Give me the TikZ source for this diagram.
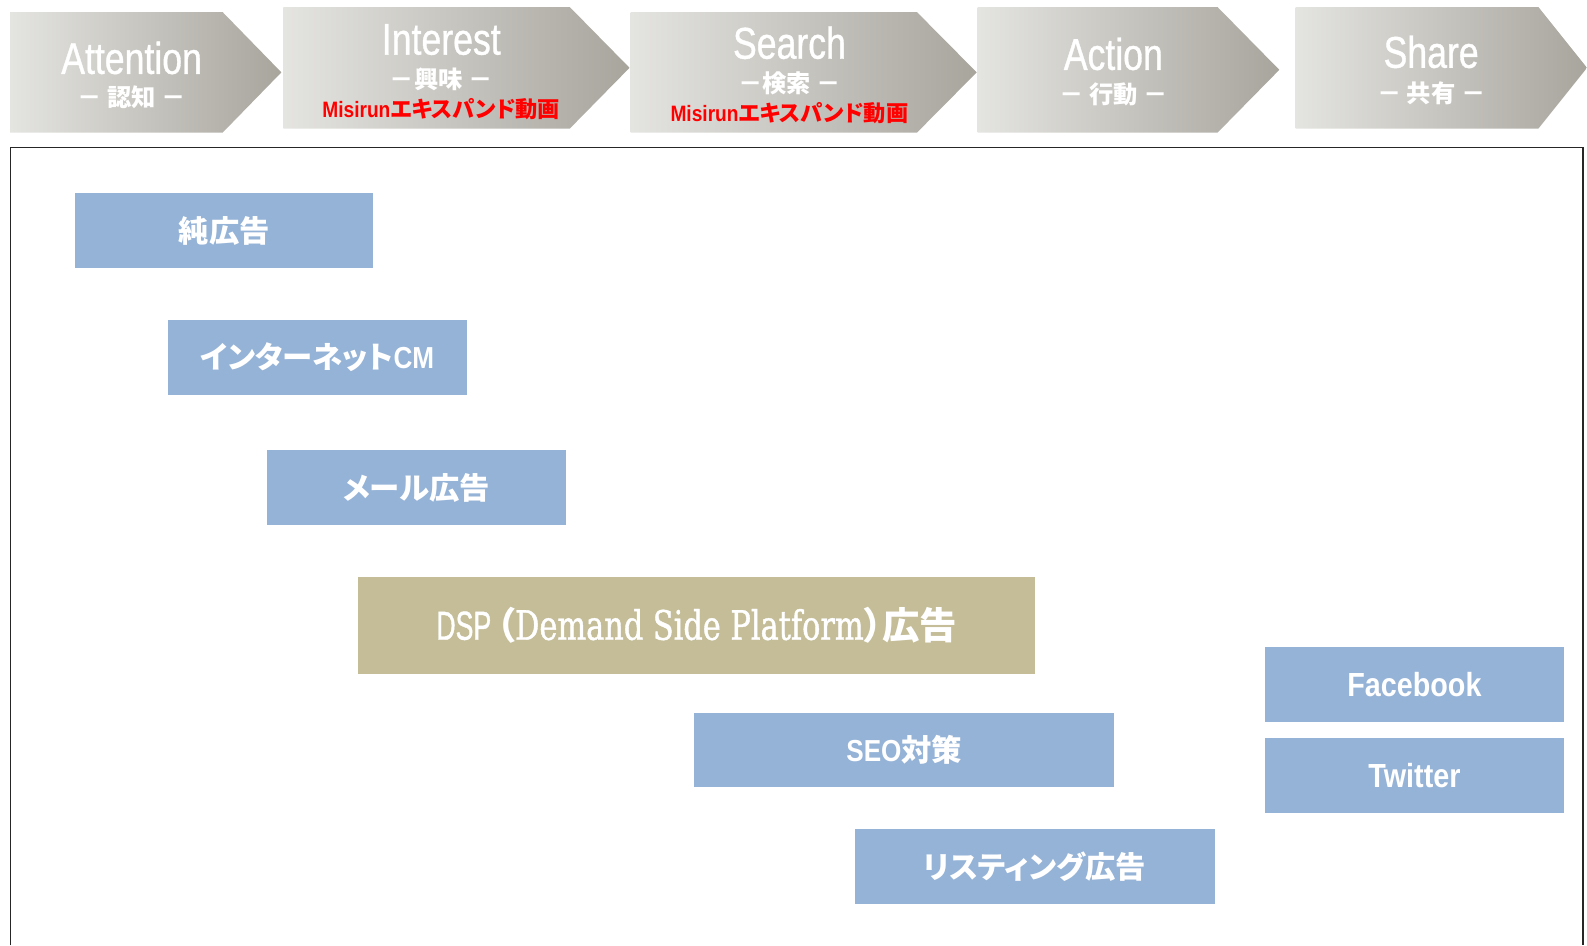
\documentclass[tikz,border=0pt]{standalone}
\usepackage{fontspec}
\setmainfont{Liberation Sans}
\newfontfamily\jp{Noto Sans CJK JP}[RawFeature=+palt]
\newfontfamily\nar{Liberation Sans}[FakeStretch=0.80, FakeBold=0.8]
\newfontfamily\narb{Liberation Sans}[FakeStretch=0.86]
\newfontfamily\narc{Liberation Sans}[FakeStretch=0.66, FakeBold=1]
\newfontfamily\slab{DejaVu Serif}[FakeStretch=0.75, FakeBold=1]
\definecolor{boxblue}{HTML}{95B3D7}
\definecolor{dspc}{HTML}{C4BD97}
\definecolor{gl}{HTML}{E4E4E1}
\definecolor{gd}{HTML}{A8A59D}
\definecolor{redtxt}{HTML}{FF0000}
\tikzset{
  box/.style={fill=boxblue, minimum height=74pt, inner sep=0pt, text=white,
    font=\jp\bfseries\fontsize{30}{34}\selectfont},
  htitle/.style={text=white, anchor=base, inner sep=0pt, font=\nar\fontsize{44}{48}\selectfont},
  hsub/.style={text=white, anchor=base, inner sep=0pt, font=\jp\bfseries\fontsize{24}{26}\selectfont},
  hred/.style={text=redtxt, anchor=base, inner sep=0pt, font=\jp\bfseries\fontsize{22}{24}\selectfont},
  harrow/.style={left color=gl, right color=gd}
}
\begin{document}
\begin{tikzpicture}[x=1pt,y=-1pt]
\useasboundingbox (0,0) rectangle (1568,934);
% header arrows
\shade[harrow] (10,12) -- (220,12) -- (278,71.5) -- (220,131) -- (10,131) -- cycle;
\shade[harrow] (280,7) -- (563,7) -- (622,67) -- (563,127) -- (280,127) -- cycle;
\shade[harrow] (623,12) -- (906,12) -- (965,71.5) -- (906,131) -- (623,131) -- cycle;
\shade[harrow] (966,7) -- (1203,7) -- (1264,69) -- (1203,131) -- (966,131) -- cycle;
\shade[harrow] (1280,7) -- (1520,7) -- (1568,67) -- (1520,127) -- (1280,127) -- cycle;
% header texts
\node[htitle] (attT) at (130,73) {Attention};
\node[hsub] (attS) at (130,105) {－ 認知 －};
\node[htitle] (intT) at (436,54) {Interest};
\node[hsub] (intS) at (436,87) {－興味 －};
\node[hred] (intR) at (436,116) {{\narb\bfseries Misirun}エキスパンド動画};
\node[htitle] (seaT) at (780,58) {Search};
\node[hsub] (seaS) at (780,91) {－検索 －};
\node[hred] (seaR) at (780,120) {{\narb\bfseries Misirun}エキスパンド動画};
\node[htitle] (actT) at (1100,69) {Action};
\node[hsub] (actS) at (1100,102) {－ 行動 －};
\node[htitle] (shaT) at (1414,67) {Share};
\node[hsub] (shaS) at (1414,101) {－ 共有 －};
% frame
\draw[line width=1.2pt, black!85] (10,934) -- (10,146) -- (1564,146) -- (1564,934);
% boxes
\node[box, minimum width=295pt] (jun) at (221.5,228) {純広告};
\node[box, minimum width=295pt] (netcm) at (313.5,353) {インターネット{\narb CM}};
\node[box, minimum width=295pt] (mail) at (411.5,482) {メール広告};
\node[box, fill=dspc, minimum width=669pt, minimum height=96pt] (dsp) at (688.5,618)
  {{\narc\mdseries\fontsize{40}{44}\selectfont DSP}\,{\fontsize{37}{40}\selectfont （}{\slab\mdseries\fontsize{40}{44}\selectfont Demand Side Platform}{\fontsize{37}{40}\selectfont ）広告}};
\node[box, minimum width=415pt] (seo) at (893.5,741) {{\narb SEO}対策};
\node[box, minimum width=355pt] (list) at (1022.5,856) {リスティング広告};
\node[box, minimum width=295pt, font=\narb\bfseries\fontsize{33}{36}\selectfont] (fb) at (1397.5,676) {Facebook};
\node[box, minimum width=295pt, font=\narb\bfseries\fontsize{33}{36}\selectfont] (tw) at (1397.5,766) {Twitter};
\end{tikzpicture}
\end{document}
